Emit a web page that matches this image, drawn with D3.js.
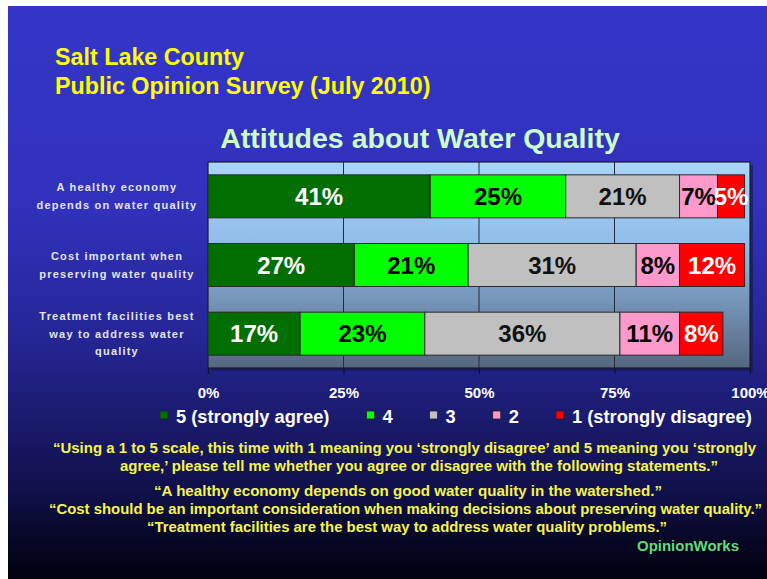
<!DOCTYPE html>
<html><head><meta charset="utf-8">
<script src="https://cdn.jsdelivr.net/npm/d3@7"></script>
<style>body{margin:0;background:#fff}svg{display:block}</style>
</head><body>
<script>
// ---------- data ----------
const categories = [
  "A healthy economy\ndepends on water quality",
  "Cost important when\npreserving water quality",
  "Treatment facilities best\nway to address water\nquality"
];
const seriesNames = ["5 (strongly agree)", "4", "3", "2", "1 (strongly disagree)"];
const strongAgree = [41, 27, 17];
const agree = [25, 21, 23];
const neutral = [21, 31, 36];
const disagree = [7, 8, 11];
const strongDisagree = [5, 12, 8];
const tickValues = [0, 25, 50, 75, 100];
const tickLabels = ["0%", "25%", "50%", "75%", "100%"];
const titleLines = ["Salt Lake County", "Public Opinion Survey (July 2010)"];
const chartTitle = "Attitudes about Water Quality";
const footnotes = [
  "\u201cUsing a 1 to 5 scale, this time with 1 meaning you \u2018strongly disagree\u2019 and 5 meaning you \u2018strongly",
  "agree,\u2019 please tell me whether you agree or disagree with the following statements.\u201d",
  "\u201cA healthy economy depends on good water quality in the watershed.\u201d",
  "\u201cCost should be an important consideration when making decisions about preserving water quality.\u201d",
  "\u201cTreatment facilities are the best way to address water quality problems.\u201d"
];
const credit = "OpinionWorks";

// ---------- styling ----------
const colors = ["#006e00", "#00ff00", "#c0c0c0", "#ff99cc", "#ff0000"];
const labelColors = ["#ffffff", "#000000", "#111111", "#000000", "#ffffff"];

const W = 767, H = 579;
const svg = d3.select("body").append("svg").attr("width", W).attr("height", H);
const defs = svg.append("defs");

const bg = defs.append("linearGradient").attr("id", "bg").attr("x1", 0).attr("y1", 0).attr("x2", 0).attr("y2", 1);
[[0, "#3535c8"], [0.35, "#3131bc"], [0.55, "#27279c"], [0.7, "#1c1c74"], [0.85, "#10104a"], [0.93, "#070726"], [1, "#020210"]]
  .forEach(([o, c]) => bg.append("stop").attr("offset", o).attr("stop-color", c));
const pg = defs.append("linearGradient").attr("id", "pg").attr("x1", 0).attr("y1", 0).attr("x2", 0).attr("y2", 1);
[[0, "#aad5fa"], [0.4, "#90bde9"], [0.65, "#7898bd"], [1, "#55677f"]]
  .forEach(([o, c]) => pg.append("stop").attr("offset", o).attr("stop-color", c));

svg.append("rect").attr("x", 8).attr("y", 6).attr("width", W - 8).attr("height", H - 6).attr("fill", "url(#bg)");

// titles
const font = "'Liberation Sans', Arial, sans-serif";
svg.selectAll("text.title").data(titleLines).join("text").attr("class", "title")
  .attr("x", 55).attr("y", (d, i) => 65 + i * 29)
  .attr("fill", "#ffff00").attr("font-family", font).attr("font-weight", "bold").attr("font-size", 23.3)
  .text(d => d);

svg.append("text").attr("x", 420).attr("y", 148).attr("text-anchor", "middle")
  .attr("fill", "#ccffcc").attr("font-family", font).attr("font-weight", "bold").attr("font-size", 28.5)
  .text(chartTitle);

// scales
const x = d3.scaleLinear().domain([0, 100]).range([208, 750]);
const y = d3.scaleBand().domain(categories).range([162, 368]).paddingInner(0.374).paddingOuter(0.187);

// plot area
const px0 = x(0), px1 = x(100), py0 = 162, py1 = 368;
svg.append("rect").attr("x", px0 + 3).attr("y", py0 + 3).attr("width", px1 - px0).attr("height", py1 - py0)
  .attr("fill", "#15154a").attr("opacity", 0.6);
svg.append("rect").attr("x", px0).attr("y", py0).attr("width", px1 - px0).attr("height", py1 - py0)
  .attr("fill", "url(#pg)");
svg.append("g").selectAll("line").data(tickValues.slice(1, -1)).join("line")
  .attr("x1", d => x(d)).attr("x2", d => x(d)).attr("y1", py0).attr("y2", py1)
  .attr("stroke", "#2a2a3a").attr("stroke-width", 1);
svg.append("rect").attr("x", px0).attr("y", py0).attr("width", px1 - px0).attr("height", py1 - py0)
  .attr("fill", "none").attr("stroke", "#1a1a2a").attr("stroke-width", 1.2);

// stacked bars
const rows = categories.map((c, i) => ({
  cat: c, s0: strongAgree[i], s1: agree[i], s2: neutral[i], s3: disagree[i], s4: strongDisagree[i]
}));
const keys = ["s0", "s1", "s2", "s3", "s4"];
const stacked = d3.stack().keys(keys)(rows);

const layers = svg.append("g").selectAll("g").data(stacked).join("g")
  .attr("fill", (d, i) => colors[i]);
layers.selectAll("rect").data(d => d).join("rect")
  .attr("x", d => x(d[0])).attr("width", d => x(d[1]) - x(d[0]))
  .attr("y", d => y(d.data.cat)).attr("height", y.bandwidth())
  .attr("stroke", "#2a2a2a").attr("stroke-width", 1);

const labelLayers = svg.append("g").selectAll("g").data(stacked).join("g")
  .attr("fill", (d, i) => labelColors[i]);
labelLayers.selectAll("text").data(d => d).join("text")
  .attr("x", d => (x(d[0]) + x(d[1])) / 2)
  .attr("y", d => y(d.data.cat) + y.bandwidth() / 2)
  .attr("dy", "0.36em").attr("text-anchor", "middle")
  .attr("font-family", font).attr("font-weight", "bold").attr("font-size", 24)
  .text(d => (d[1] - d[0]) + "%");

// category labels
const catG = svg.append("g");
categories.forEach(c => {
  const lines = c.split("\n");
  const cy = y(c) + y.bandwidth() / 2;
  const t = catG.append("text").attr("text-anchor", "middle")
    .attr("fill", "#e4e4ea").attr("font-family", font).attr("font-weight", "bold")
    .attr("font-size", 11).attr("letter-spacing", 1.2);
  lines.forEach((l, j) => {
    t.append("tspan").attr("x", 117)
      .attr("y", cy + (j - (lines.length - 1) / 2) * 17.5).attr("dy", "0.35em").text(l);
  });
});

// x axis
const axis = svg.append("g").attr("transform", `translate(0,${py1})`)
  .call(d3.axisBottom(x).tickValues(tickValues).tickFormat((d, i) => tickLabels[i]).tickSize(6).tickPadding(21));
axis.select(".domain").remove();
axis.selectAll(".tick line").attr("stroke", "#10102a").attr("stroke-width", 1.2);
axis.selectAll(".tick text").attr("fill", "#ffffff").attr("font-family", font)
  .attr("font-weight", "bold").attr("font-size", 15).attr("dy", "0.2em");

// legend
const leg = svg.append("g");
let lx = 160;
seriesNames.forEach((n, i) => {
  leg.append("rect").attr("x", lx).attr("y", 411).attr("width", 8).attr("height", 8)
    .attr("fill", colors[i]).attr("stroke", "#222").attr("stroke-width", 0.8);
  const t = leg.append("text").attr("x", lx + 16).attr("y", 422.5)
    .attr("fill", "#ffffff").attr("font-family", font).attr("font-weight", "bold").attr("font-size", 18.3)
    .text(n);
  lx += 16 + t.node().getComputedTextLength() + 37;
});

// footnotes
const fnY = [447, 465, 490, 508, 526];
const fnX = [[53, 756], [120, 718], [154, 662], [49, 762], [147, 667]];
const narrow = "'Liberation Sans Narrow', 'Arial Narrow', 'Liberation Sans', Arial, sans-serif";
svg.append("g").selectAll("text").data(footnotes).join("text")
  .attr("x", (d, i) => fnX[i][0]).attr("y", (d, i) => fnY[i] + 5.5)
  .attr("textLength", (d, i) => fnX[i][1] - fnX[i][0]).attr("lengthAdjust", "spacingAndGlyphs")
  .attr("fill", "#f4f44a").attr("font-family", narrow).attr("font-weight", "bold").attr("font-size", 15)
  .text(d => d);
svg.append("text").attr("x", 637).attr("y", 551).attr("textLength", 102).attr("lengthAdjust", "spacingAndGlyphs")
  .attr("fill", "#5fdc78").attr("font-family", narrow).attr("font-weight", "bold").attr("font-size", 15.5)
  .text(credit);
</script>
</body></html>
